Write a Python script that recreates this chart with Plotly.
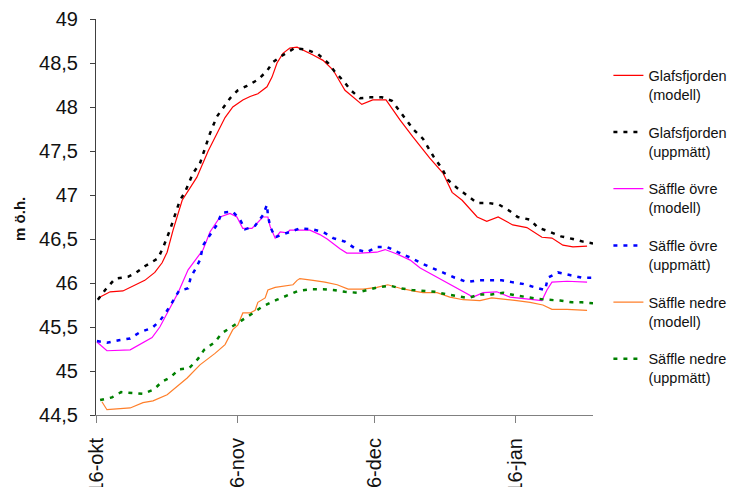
import plotly.graph_objects as go

# x = days after 16 October
tick_days = [0, 31, 61, 92]
tick_labels = ["16-okt", "16-nov", "16-dec", "16-jan"]

glaf_mod_x = [0.9, 3.1, 5.9, 8.6, 10.7, 12.9, 14.5, 15.6, 16.9, 18.9, 20.0, 22.1, 24.6, 26.5, 28.3, 30.0,
              32.2, 33.8, 35.5, 37.5, 38.6, 39.7, 41.0, 42.5, 44.1, 47.6, 49.8, 52.0, 54.6, 58.3, 60.7,
              63.6, 66.7, 69.5, 73.2, 76.1, 78.1, 80.3, 83.6, 85.7, 88.2, 91.4, 94.5, 97.8, 100.0, 102.4,
              104.6, 107.7]
glaf_mod_y = [45.84, 45.90, 45.91, 45.98, 46.03, 46.12, 46.23, 46.35, 46.60, 46.94, 47.03, 47.20, 47.50,
              47.70, 47.88, 48.00, 48.08, 48.12, 48.15, 48.23, 48.34, 48.50, 48.61, 48.67, 48.68, 48.59,
              48.53, 48.42, 48.19, 48.03, 48.08, 48.08, 47.85, 47.66, 47.42, 47.25, 47.03, 46.94, 46.75,
              46.70, 46.75, 46.66, 46.63, 46.52, 46.51, 46.43, 46.41, 46.42]

glaf_obs_x = [0.4, 2.0, 4.2, 7.0, 8.6, 10.7, 13.6, 14.7, 16.2, 18.4, 19.5, 21.3, 22.8, 23.7, 25.0, 26.5,
              27.9, 29.4, 31.1, 33.1, 35.5, 37.5, 38.8, 41.0, 43.6, 46.3, 48.7, 50.9, 52.4, 54.2, 55.9,
              57.9, 60.1, 62.7, 64.9, 66.4, 68.2, 69.7, 71.7, 74.1, 75.9, 77.2, 79.2, 81.4, 83.6, 86.0,
              88.4, 90.4, 92.5, 95.2, 96.9, 99.6, 102.0, 104.6, 106.8, 109.0]
glaf_obs_y = [45.81, 45.92, 46.05, 46.07, 46.11, 46.19, 46.28, 46.40, 46.60, 46.94, 47.03, 47.25, 47.36,
              47.51, 47.70, 47.89, 47.99, 48.10, 48.19, 48.24, 48.31, 48.41, 48.51, 48.59, 48.67, 48.65,
              48.60, 48.50, 48.40, 48.30, 48.19, 48.10, 48.11, 48.11, 48.07, 47.97, 47.85, 47.74, 47.64,
              47.43, 47.30, 47.17, 47.08, 47.00, 46.91, 46.91, 46.89, 46.83, 46.75, 46.72, 46.63, 46.58,
              46.53, 46.50, 46.47, 46.45]

ovre_mod_x = [0.2, 2.4, 7.5, 12.3, 14.0, 15.6, 18.0, 20.2, 21.7, 23.5, 25.0, 27.2, 29.4, 30.9, 32.2, 34.2,
              36.6, 37.7, 38.2, 39.3, 40.4, 41.9, 42.5, 46.9, 49.1, 50.7, 53.5, 55.0, 57.9, 61.6, 63.4,
              66.0, 68.9, 71.1, 73.9, 77.0, 79.8, 82.7, 84.9, 87.9, 90.8, 93.0, 95.8, 97.8, 98.9, 100.0,
              103.3, 107.7]
ovre_mod_y = [45.33, 45.23, 45.24, 45.38, 45.50, 45.66, 45.89, 46.15, 46.25, 46.38, 46.58, 46.75, 46.79,
              46.75, 46.62, 46.62, 46.75, 46.75, 46.64, 46.51, 46.58, 46.57, 46.60, 46.60, 46.55, 46.50,
              46.39, 46.34, 46.34, 46.35, 46.38, 46.33, 46.26, 46.17, 46.09, 46.00, 45.92, 45.84, 45.89,
              45.90, 45.84, 45.83, 45.81, 45.80, 45.92, 46.01, 46.02, 46.01]

ovre_obs_x = [0.2, 2.4, 5.0, 7.5, 9.6, 12.3, 14.0, 15.4, 16.7, 18.2, 20.2, 20.8, 21.7, 22.8, 23.5, 25.0,
              26.5, 27.6, 30.0, 31.6, 32.7, 34.9, 36.6, 37.5, 37.7, 38.2, 39.3, 40.8, 42.3, 44.7, 47.4,
              49.8, 52.0, 54.6, 57.2, 59.4, 61.6, 63.8, 66.2, 69.3, 71.5, 73.9, 76.5, 78.7, 81.4, 83.6,
              86.0, 89.0, 91.2, 93.6, 96.3, 98.5, 99.1, 101.3, 103.9, 106.6, 109.0]
ovre_obs_y = [45.34, 45.32, 45.35, 45.37, 45.44, 45.49, 45.57, 45.67, 45.78, 45.91, 45.94, 46.07, 46.15,
              46.26, 46.43, 46.55, 46.66, 46.80, 46.81, 46.72, 46.61, 46.65, 46.77, 46.89, 46.77, 46.64,
              46.52, 46.55, 46.58, 46.62, 46.61, 46.58, 46.51, 46.47, 46.38, 46.35, 46.41, 46.41, 46.35,
              46.28, 46.22, 46.17, 46.11, 46.06, 46.01, 46.03, 46.03, 46.03, 46.01, 45.99, 45.95, 45.92,
              46.06, 46.12, 46.09, 46.06, 46.06]

nedre_mod_x = [1.3, 2.4, 7.5, 10.3, 12.5, 15.6, 20.0, 22.8, 26.1, 28.3, 30.0, 31.1, 32.2, 33.8, 34.9, 35.5,
               37.1, 37.7, 39.3, 41.4, 43.2, 44.1, 44.7, 47.6, 50.2, 52.9, 55.3, 58.6, 61.6, 64.0, 66.7,
               69.5, 71.7, 74.8, 77.6, 80.5, 84.2, 86.8, 89.3, 92.3, 95.2, 98.0, 100.0, 103.3, 107.7]
nedre_mod_y = [44.65, 44.56, 44.58, 44.64, 44.66, 44.73, 44.92, 45.07, 45.20, 45.30, 45.47, 45.52, 45.66,
               45.66, 45.69, 45.78, 45.83, 45.92, 45.95, 45.97, 45.98, 46.03, 46.05, 46.03, 46.01, 45.98,
               45.93, 45.93, 45.95, 45.98, 45.94, 45.91, 45.89, 45.89, 45.84, 45.81, 45.80, 45.83, 45.82,
               45.80, 45.78, 45.75, 45.70, 45.70, 45.69]

nedre_obs_x = [0.9, 3.5, 5.5, 8.1, 10.3, 12.7, 14.5, 16.4, 18.2, 20.4, 22.4, 23.7, 26.1, 27.6, 29.6, 31.8,
               34.2, 36.4, 39.7, 41.9, 44.3, 47.4, 49.8, 52.0, 54.6, 57.2, 59.4, 61.8, 64.5, 66.7, 69.3,
               71.7, 74.3, 77.0, 79.2, 81.6, 84.2, 86.8, 89.3, 91.9, 94.5, 96.7, 99.1, 101.8, 104.4, 106.6,
               109.0]
nedre_obs_y = [44.67, 44.70, 44.76, 44.75, 44.74, 44.79, 44.88, 44.93, 45.02, 45.03, 45.14, 45.24, 45.33,
               45.43, 45.50, 45.57, 45.65, 45.73, 45.81, 45.86, 45.91, 45.93, 45.93, 45.92, 45.90, 45.89,
               45.92, 45.95, 45.97, 45.94, 45.92, 45.91, 45.90, 45.87, 45.85, 45.83, 45.87, 45.87, 45.89,
               45.86, 45.84, 45.82, 45.81, 45.80, 45.78, 45.78, 45.77]

series = [
    ("Glafsfjorden<br>(modell)", glaf_mod_x, glaf_mod_y, "#FF0000", "solid", 1.2),
    ("Glafsfjorden<br>(uppmätt)", glaf_obs_x, glaf_obs_y, "#000000", "4px,6px", 2.5),
    ("Säffle övre<br>(modell)", ovre_mod_x, ovre_mod_y, "#FF00FF", "solid", 1.2),
    ("Säffle övre<br>(uppmätt)", ovre_obs_x, ovre_obs_y, "#0000FF", "4px,6px", 2.5),
    ("Säffle nedre<br>(modell)", nedre_mod_x, nedre_mod_y, "#FF7F2A", "solid", 1.2),
    ("Säffle nedre<br>(uppmätt)", nedre_obs_x, nedre_obs_y, "#008000", "4px,6px", 2.5),
]

fig = go.Figure()
for i, (name, xs, ys, col, dash, w) in enumerate(series):
    fig.add_trace(go.Scatter(x=xs, y=ys, mode="lines", name=name, legendgroup=f"g{i}",
                             line=dict(color=col, dash=dash, width=w)))

font_family = "Liberation Sans, Arial, sans-serif"
fig.update_layout(
    width=736, height=479,
    margin=dict(l=88, r=151, t=11, b=72, autoexpand=False),
    paper_bgcolor="white", plot_bgcolor="white",
    font=dict(family=font_family, color="#111111"),
    showlegend=True,
    legend=dict(x=1.031, y=0.898, xanchor="left", yanchor="top", valign="top",
                font=dict(size=14.5, family=font_family, color="#111111"),
                traceorder="grouped", tracegroupgap=16, bgcolor="rgba(0,0,0,0)"),
    xaxis=dict(range=[0, 109], tickvals=tick_days, ticktext=tick_labels, tickangle=-90,
               showgrid=False, zeroline=False, showline=True, linecolor="#808080", linewidth=1,
               ticks="outside", ticklen=7, tickcolor="#808080", tickfont=dict(size=20),
               ticklabelstandoff=7, automargin=False),
    yaxis=dict(range=[44.5, 49], tickvals=[44.5, 45, 45.5, 46, 46.5, 47, 47.5, 48, 48.5, 49],
               ticktext=["44,5", "45", "45,5", "46", "46,5", "47", "47,5", "48", "48,5", "49"],
               showgrid=False, zeroline=False, showline=True, linecolor="#404040", linewidth=1,
               ticks="outside", ticklen=5, tickcolor="#404040", tickfont=dict(size=20),
               ticklabelstandoff=8, automargin=False),
    annotations=[dict(text="<b>m ö.h.</b>", xref="paper", yref="paper", x=-0.153, y=0.495,
                      xanchor="center", yanchor="middle", textangle=-90, showarrow=False,
                      font=dict(size=15, family=font_family, color="#111111"))],
)

fig.write_html("out.html")
